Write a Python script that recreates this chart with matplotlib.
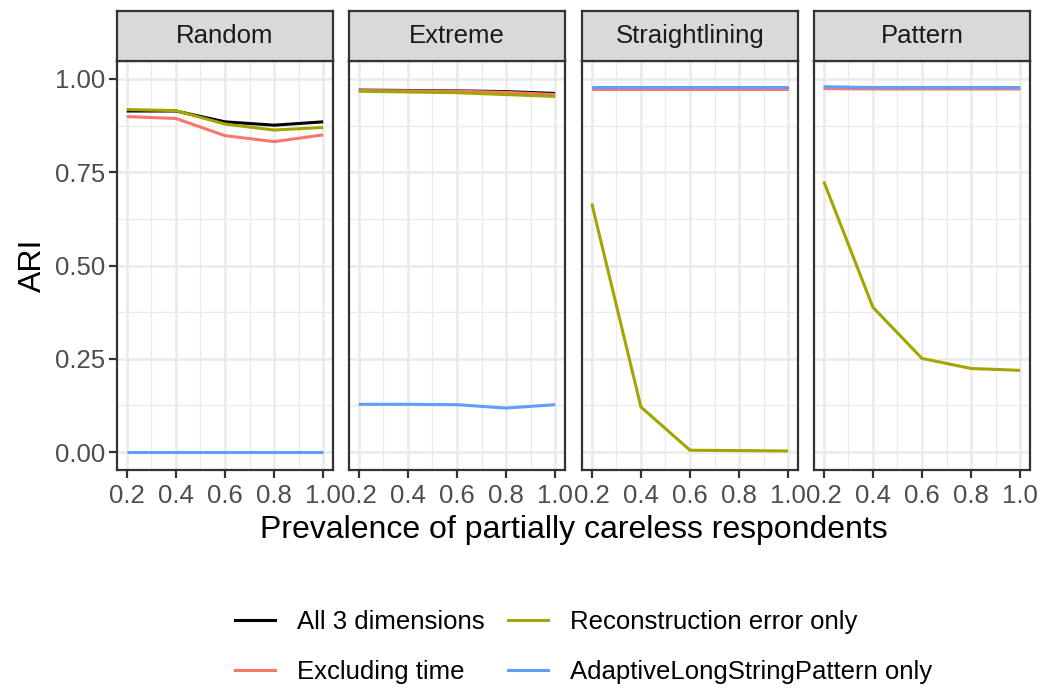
import matplotlib.pyplot as plt
from matplotlib.lines import Line2D

plt.rcParams['font.family'] = ['Liberation Sans', 'DejaVu Sans']

# ---------------- DATA ---------------- #
prevalence = [0.2, 0.4, 0.6, 0.8, 1.0]
panels = ["Random", "Extreme", "Straightlining", "Pattern"]
series = ["All 3 dimensions", "Excluding time",
          "Reconstruction error only", "AdaptiveLongStringPattern only"]
colors = ["#000000", "#F8766D", "#A3A500", "#619CFF"]

all3 = {
    "Random": [0.914, 0.914, 0.885, 0.876, 0.885],
    "Extreme": [0.970, 0.969, 0.968, 0.966, 0.961],
    "Straightlining": [0.975, 0.975, 0.975, 0.975, 0.975],
    "Pattern": [0.976, 0.975, 0.975, 0.975, 0.975],
}
excl_time = {
    "Random": [0.899, 0.894, 0.848, 0.832, 0.850],
    "Extreme": [0.969, 0.968, 0.967, 0.964, 0.958],
    "Straightlining": [0.972, 0.972, 0.972, 0.972, 0.972],
    "Pattern": [0.974, 0.973, 0.973, 0.973, 0.973],
}
recon = {
    "Random": [0.918, 0.915, 0.879, 0.863, 0.870],
    "Extreme": [0.967, 0.965, 0.963, 0.958, 0.953],
    "Straightlining": [0.666, 0.121, 0.005, 0.004, 0.003],
    "Pattern": [0.725, 0.388, 0.251, 0.224, 0.219],
}
adaptive = {
    "Random": [0.0, 0.0, 0.0, 0.0, 0.0],
    "Extreme": [0.128, 0.128, 0.127, 0.118, 0.127],
    "Straightlining": [0.977, 0.977, 0.977, 0.977, 0.977],
    "Pattern": [0.979, 0.977, 0.977, 0.977, 0.977],
}
all_series = [all3, excl_time, recon, adaptive]

y_ticks = [0.0, 0.25, 0.5, 0.75, 1.0]
x_ticks = [0.2, 0.4, 0.6, 0.8, 1.0]

# ---------------- FIGURE ---------------- #
W, H = 1044, 688
fig = plt.figure(figsize=(W / 100, H / 100), dpi=100)

panel_left = [117, 349, 582, 814]
panel_w = 216
panel_top, panel_bot = 61, 470
strip_top = 11

border = "#333333"
small = 18.5

for i, name in enumerate(panels):
    x0 = panel_left[i]
    ax = fig.add_axes([x0 / W, 1 - panel_bot / H, panel_w / W, (panel_bot - panel_top) / H])
    for s, col, lab in zip(all_series, colors, series):
        ax.plot(prevalence, s[name], color=col, lw=2.2, label=lab, solid_capstyle="butt")
    ax.set_xlim(0.16, 1.04)
    ax.set_ylim(-0.048, 1.048)
    ax.set_xticks(x_ticks)
    ax.set_xticklabels(["%.1f" % v for v in x_ticks])
    ax.set_xticks([0.3, 0.5, 0.7, 0.9], minor=True)
    ax.set_yticks(y_ticks)
    ax.set_yticks([0.125, 0.375, 0.625, 0.875], minor=True)
    if i == 0:
        ax.set_yticklabels(["%.2f" % v for v in y_ticks])
    else:
        ax.set_yticklabels([])
    ax.grid(which="major", color="#EBEBEB", lw=1.9)
    ax.grid(which="minor", color="#EBEBEB", lw=0.95)
    ax.set_axisbelow(True)
    ax.tick_params(which="major", length=5.5, width=1.6, color=border,
                   labelsize=small, labelcolor="#4D4D4D", pad=3)
    ax.tick_params(axis="x", which="major", pad=4.5)
    ax.tick_params(which="minor", length=0)
    if i != 0:
        ax.tick_params(axis="y", which="major", length=0)
    for sp in ax.spines.values():
        sp.set_color(border)
        sp.set_linewidth(1.6)

    # ---- strip ----
    sax = fig.add_axes([x0 / W, 1 - panel_top / H, panel_w / W, (panel_top - strip_top) / H])
    sax.set_xticks([])
    sax.set_yticks([])
    sax.set_facecolor("#D9D9D9")
    for sp in sax.spines.values():
        sp.set_color(border)
        sp.set_linewidth(1.6)
    sax.text(0.5, 0.5, name, ha="center", va="center", fontsize=small,
             color="#1A1A1A", transform=sax.transAxes)

fig.text(573.5 / W, 1 - 530 / H, "Prevalence of partially careless respondents",
         ha="center", va="center", fontsize=23)
fig.text(33 / W, 1 - 265.5 / H, "ARI", ha="center", va="center",
         fontsize=23, rotation=90)

handles = [Line2D([], [], color=c, lw=2.2) for c in colors]
fig.legend(handles, series, ncol=2, loc="center", bbox_to_anchor=(583.5 / W, 1 - 647 / H),
           frameon=False, fontsize=small, handlelength=1.56, handletextpad=0.86,
           columnspacing=0.9, labelspacing=1.0)

fig.savefig("out.png", dpi=100)
